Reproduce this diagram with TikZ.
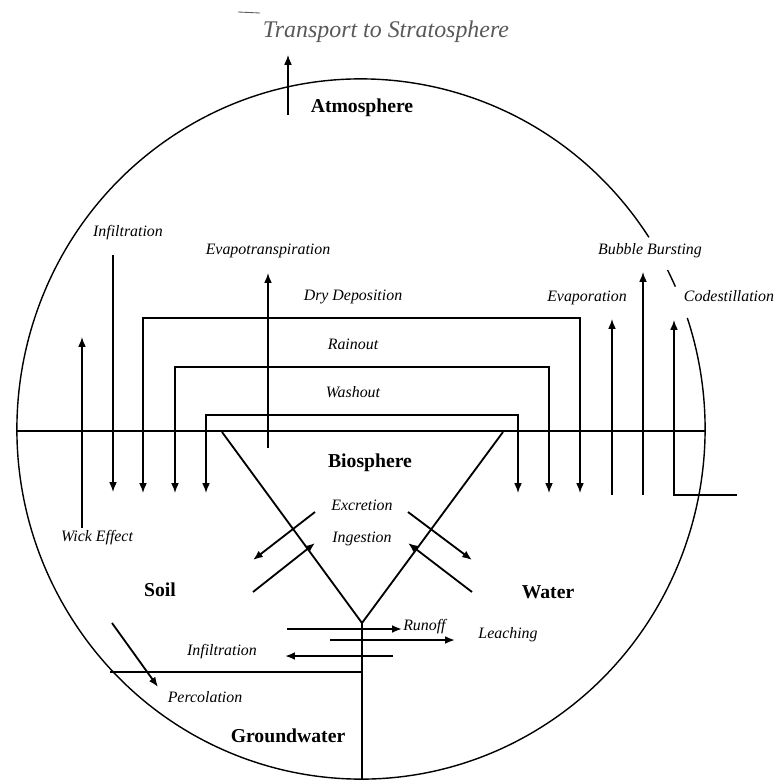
\documentclass[tikz,border=0pt]{standalone}
\usepackage{fontspec}
\setmainfont{Liberation Serif}
\usetikzlibrary{arrows.meta}
\tikzstyle{proc}=[font=\fontsize{11.3}{13}\selectfont\itshape,inner sep=0pt,text height=0.7em,text depth=0.2em]
\tikzstyle{comp}=[font=\fontsize{14}{16}\selectfont\bfseries,inner sep=0pt]
\tikzstyle{edge}=[draw,line width=1pt,-]

\begin{document}
\begin{tikzpicture}[x=0.025cm,y=-0.025cm]
  \tikzset{flow/.style={edge,->,>={Latex[length=7pt,width=5.5pt]}}, cross/.style={flow,line width=1.3pt}}
  \useasboundingbox (0,0) rectangle (775,783);
  \coordinate (ctr) at (361,429);
  % outer boundary, broken near the top right
  \draw[edge] ([shift={(33.2:8.6cm and 8.75cm)}]ctr) arc[start angle=33.2,end angle=378.5,x radius=8.6cm,y radius=8.75cm];
  \draw[edge] ([shift={(27:8.6cm and 8.75cm)}]ctr) arc[start angle=27,end angle=24,x radius=8.6cm,y radius=8.75cm];

  % interfaces
  \coordinate (hz-l) at (17,431);
  \coordinate (hz-r) at (705,431);
  \coordinate (tri-l) at (222,432);
  \coordinate (tri-r) at (503,432);
  \coordinate (tri-b) at (362,623);
  \coordinate (gw-b) at (362,779);
  \coordinate (gw-l) at (110,672);
  \coordinate (gw-r) at (362,672);
  \draw[edge] (hz-l) -- (hz-r);
  \draw[edge,line width=1.3pt] (tri-l) -- (tri-b) -- (tri-r);
  \draw[edge] (tri-b) -- (gw-b);
  \draw[edge] (gw-l) -- (gw-r);

  \node[comp] (atm) at (362,108) {Atmosphere};
  \node[comp] (bio) at (370,463) {Biosphere};
  \node[comp] (soil) at (160,590) {Soil};
  \node[comp] (water) at (548,592) {Water};
  \node[comp] (gw) at (288,736) {Groundwater};

  % deposition
  \foreach \nm/\xl/\xr/\yt/\txt in {dry/143/580/318/Dry Deposition, rain/175/549/367/Rainout, wash/206/518/415/Washout}{
    \coordinate (\nm-l) at (\xl,493);
    \coordinate (\nm-t) at (353,\yt);
    \coordinate (\nm-r) at (\xr,493);
    \draw[flow,<->] (\nm-l) |- (\nm-t) -| (\nm-r);
    \node[proc] (\nm-lab) at (353,\yt-21) {\txt};
  }

  % vertical fluxes
  \foreach \nm/\x/\ya/\yb in {wick/82/528/337, evt/268/448/273, evap/612/495/319, bub/643/495/272, infl/113/255/492}{
    \coordinate (\nm-s) at (\x,\ya);
    \coordinate (\nm-e) at (\x,\yb);
    \draw[flow] (\nm-s) -- (\nm-e);
  }
  \coordinate (strat-s) at (288,115);
  \coordinate (strat-e) at (288,55);
  \draw[flow,line width=0.8pt] (strat-s) -- (strat-e);
  \coordinate (cod-s) at (737,495);
  \coordinate (cod-e) at (674,320);
  \draw[flow] (cod-s) -| (cod-e);

  % exchange with the biosphere and below
  \foreach \nm/\xa/\ya/\xb/\yb in {exs/315/512/253/560, ins/253/592/315/543, exw/408/512/472/560, inw/472/592/408/543, perc/112/623/158/687}{
    \coordinate (\nm-s) at (\xa,\ya);
    \coordinate (\nm-e) at (\xb,\yb);
    \draw[cross] (\nm-s) -- (\nm-e);
  }
  \foreach \nm/\xa/\y/\xb in {run/287/629/402, leach/330/640/455, infb/393/656/285}{
    \coordinate (\nm-s) at (\xa,\y);
    \coordinate (\nm-e) at (\xb,\y);
    \draw[cross] (\nm-s) -- (\nm-e);
  }

  \node[proc] (infl-lab) at (128,233) {Infiltration};
  \node[proc] (evt-lab) at (268,251) {Evapotranspiration};
  \node[proc] (bub-lab) at (650,251) {Bubble Bursting};
  \node[proc] (evap-lab) at (587,298) {Evaporation};
  \node[proc] (cod-lab) at (729,298) {Codestillation};
  \node[proc] (wick-lab) at (97,538) {Wick Effect};
  \node[proc] (ex-lab) at (362,507) {Excretion};
  \node[proc] (in-lab) at (362,539) {Ingestion};
  \node[proc,anchor=west] (run-lab) at (403,627) {Runoff};
  \node[proc] (leach-lab) at (508,635) {Leaching};
  \node[proc] (infb-lab) at (222,652) {Infiltration};
  \node[proc] (perc-lab) at (205,699) {Percolation};

  % handwritten note
  \node[font=\fontsize{17}{20}\selectfont\itshape,text=black!65,inner sep=0pt] (strat-lab) at (386,32) {Transport to Stratosphere};
  \coordinate (tbar-l) at (238,12);
  \coordinate (tbar-r) at (260,13);
  \draw[black!65,line width=0.6pt] (tbar-l) -- (tbar-r);
\end{tikzpicture}
\end{document}
